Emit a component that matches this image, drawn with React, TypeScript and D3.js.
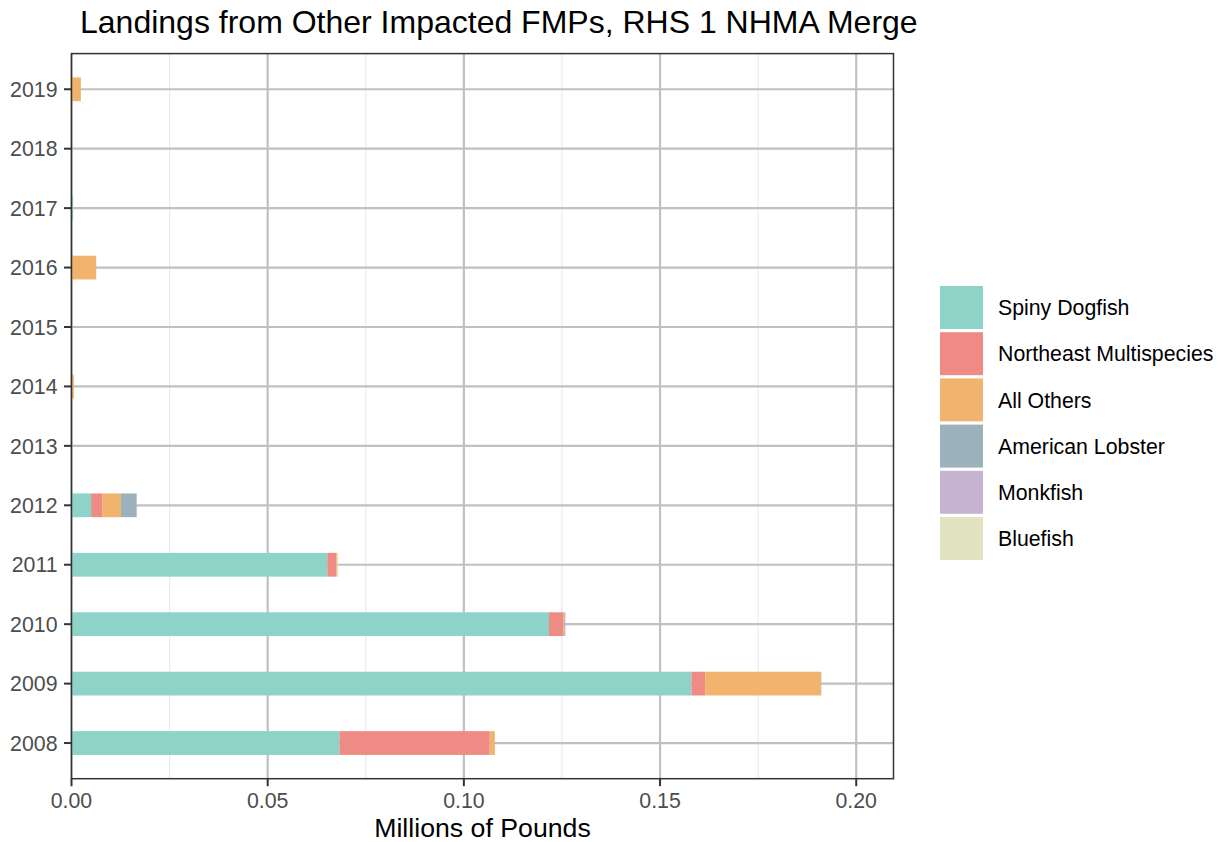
import React, { useEffect, useRef } from "react";
import * as d3 from "d3";

const years = ["2008", "2009", "2010", "2011", "2012", "2013", "2014", "2015", "2016", "2017", "2018", "2019"];
const speciesNames = ["Spiny Dogfish", "Northeast Multispecies", "All Others", "American Lobster", "Monkfish", "Bluefish"];
const speciesColors = ["#8dd3c7", "#ee8b85", "#f0b46f", "#9bb1bc", "#c5b3d1", "#e2e3c1"];

// millions of pounds, by year (2008..2019)
const spinyDogfish = [0.0683, 0.158, 0.1217, 0.0652, 0.005, 0, 0, 0, 0, 0.0004, 0, 0];
const neMultispecies = [0.0383, 0.0035, 0.0036, 0.0023, 0.0028, 0, 0, 0, 0, 0, 0, 0];
const allOthers = [0.0013, 0.0295, 0.0003, 0.0002, 0.0048, 0, 0.0006, 0, 0.0063, 0, 0, 0.0024];
const americanLobster = [0, 0.0001, 0.0002, 0, 0.0039, 0, 0, 0, 0, 0, 0, 0];
const monkfish = [0, 0, 0.0001, 0, 0.0002, 0, 0, 0, 0, 0, 0, 0];
const bluefish = [0, 0, 0, 0.0003, 0, 0, 0, 0, 0, 0, 0, 0];

const xTicks = [0, 0.05, 0.1, 0.15, 0.2];
const xMinor = [0.025, 0.075, 0.125, 0.175];

var svgWidth = 1222;
var svgHeight = 842;
var panel = { left: 71.5, right: 893.5, top: 53.6, bottom: 778.7 };

export default function App() {
  const ref = useRef<SVGSVGElement>(null);

  useEffect(() => {
    const svg = d3.select(ref.current);
    svg.selectAll("*").remove();

    const rows = years.map((y, i) => ({
      year: y,
      "Spiny Dogfish": spinyDogfish[i],
      "Northeast Multispecies": neMultispecies[i],
      "All Others": allOthers[i],
      "American Lobster": americanLobster[i],
      "Monkfish": monkfish[i],
      "Bluefish": bluefish[i],
    }));

    const xScale = d3.scaleLinear().domain([0, 0.2095]).range([panel.left, panel.right]);
    const yScale = d3.scaleBand()
      .domain(years.slice().reverse())
      .range([panel.top, panel.bottom])
      .paddingInner(0.6)
      .paddingOuter(0.4);
    const color = d3.scaleOrdinal<string, string>().domain(speciesNames).range(speciesColors);
    const font = "'Liberation Sans', Arial, Helvetica, sans-serif";

    // grid
    const grid = svg.append("g");
    grid.selectAll(".minor").data(xMinor).enter().append("line")
      .attr("x1", (d: number) => xScale(d)).attr("x2", (d: number) => xScale(d))
      .attr("y1", panel.top).attr("y2", panel.bottom)
      .attr("stroke", "#ebebeb").attr("stroke-width", 1.2);
    grid.selectAll(".majx").data(xTicks).enter().append("line")
      .attr("x1", (d: number) => xScale(d)).attr("x2", (d: number) => xScale(d))
      .attr("y1", panel.top).attr("y2", panel.bottom)
      .attr("stroke", "#c0c0c0").attr("stroke-width", 2.2);
    grid.selectAll(".majy").data(years).enter().append("line")
      .attr("x1", panel.left).attr("x2", panel.right)
      .attr("y1", (d: string) => yScale(d)! + yScale.bandwidth() / 2)
      .attr("y2", (d: string) => yScale(d)! + yScale.bandwidth() / 2)
      .attr("stroke", "#c0c0c0").attr("stroke-width", 2.2);

    // stacked bars
    const stacked = d3.stack<any>().keys(speciesNames)(rows);
    svg.append("g").selectAll("g").data(stacked).enter().append("g")
      .attr("fill", (d: any) => color(d.key))
      .selectAll("rect").data((d: any) => d).enter().append("rect")
      .attr("x", (d: any) => xScale(d[0]))
      .attr("y", (d: any) => yScale(d.data.year)!)
      .attr("width", (d: any) => Math.max(0, xScale(d[1]) - xScale(d[0])))
      .attr("height", yScale.bandwidth());

    // panel border
    svg.append("rect")
      .attr("x", panel.left).attr("y", panel.top)
      .attr("width", panel.right - panel.left).attr("height", panel.bottom - panel.top)
      .attr("fill", "none").attr("stroke", "#333333").attr("stroke-width", 1.5);

    // y axis
    const yAxis = svg.append("g");
    yAxis.selectAll("line").data(years).enter().append("line")
      .attr("x1", panel.left - 7.5).attr("x2", panel.left)
      .attr("y1", (d: string) => yScale(d)! + yScale.bandwidth() / 2)
      .attr("y2", (d: string) => yScale(d)! + yScale.bandwidth() / 2)
      .attr("stroke", "#333333").attr("stroke-width", 2);
    yAxis.selectAll("text").data(years).enter().append("text")
      .text((d: string) => d)
      .attr("x", panel.left - 14)
      .attr("y", (d: string) => yScale(d)! + yScale.bandwidth() / 2)
      .attr("dy", "0.36em")
      .attr("text-anchor", "end")
      .attr("font-family", font).attr("font-size", 21.3).attr("fill", "#4d4d4d");

    // x axis
    const xAxis = svg.append("g");
    xAxis.selectAll("line").data(xTicks).enter().append("line")
      .attr("x1", (d: number) => xScale(d)).attr("x2", (d: number) => xScale(d))
      .attr("y1", panel.bottom).attr("y2", panel.bottom + 7.5)
      .attr("stroke", "#333333").attr("stroke-width", 2);
    xAxis.selectAll("text").data(xTicks).enter().append("text")
      .text((d: number) => d3.format(".2f")(d))
      .attr("x", (d: number) => xScale(d))
      .attr("y", 808)
      .attr("text-anchor", "middle")
      .attr("font-family", font).attr("font-size", 21.3).attr("fill", "#4d4d4d");

    svg.append("text")
      .text("Millions of Pounds")
      .attr("x", (panel.left + panel.right) / 2).attr("y", 837)
      .attr("text-anchor", "middle")
      .attr("font-family", font).attr("font-size", 26.7).attr("fill", "black");

    // title
    svg.append("text")
      .text("Landings from Other Impacted FMPs, RHS 1 NHMA Merge")
      .attr("x", 80).attr("y", 33)
      .attr("font-family", font).attr("font-size", 32).attr("fill", "black");

    // legend
    const legend = svg.append("g").attr("transform", "translate(940,286)");
    const items = legend.selectAll("g").data(speciesNames).enter().append("g")
      .attr("transform", (_d: string, i: number) => `translate(0,${i * 46.2})`);
    items.append("rect")
      .attr("width", 43).attr("height", 43)
      .attr("fill", (d: string) => color(d));
    items.append("text")
      .text((d: string) => d)
      .attr("x", 58).attr("y", 21.5).attr("dy", "0.36em")
      .attr("font-family", font).attr("font-size", 21.3).attr("fill", "black");
  }, []);

  return (
    <svg ref={ref} width={svgWidth} height={svgHeight}
      style={{ position: "absolute", left: 0, top: 0, background: "white" }} />
  );
}
